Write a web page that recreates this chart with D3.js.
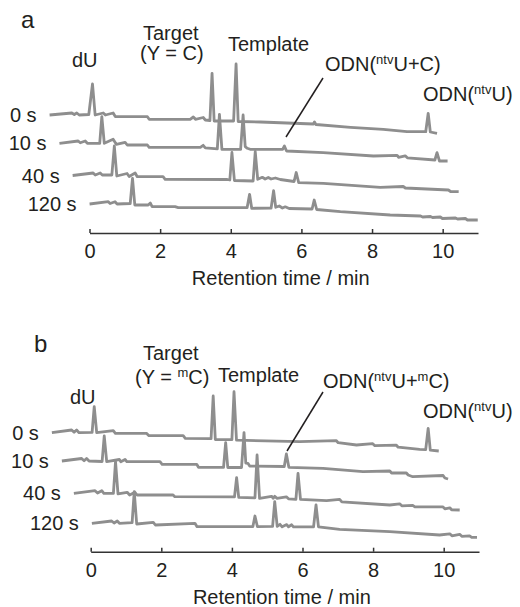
<!DOCTYPE html>
<html>
<head>
<meta charset="utf-8">
<script src="https://cdn.jsdelivr.net/npm/d3@7"></script>
<style>
  body { margin: 0; background: #fff; }
  text { font-family: "Liberation Sans", Arial, sans-serif; fill: #231f20; }
</style>
</head>
<body>
<script>
// reaction times, one chromatogram each
var times = ["0 s", "10 s", "40 s", "120 s"];
var xTicks = [0, 2, 4, 6, 8, 10];

// panel a (Y = C): [retention time (min), signal]
var a0 = [[-1.13,0],[-0.5,2],[-0.43,0.5],[-0.36,2],[-0.29,0],[-0.02,0.5],[0.085,31],[0.16,0],[0.39,2],[0.45,0],[0.67,2],[0.73,-1.5],[1.64,-1.7],[1.69,-4.3],[2.85,-4.3],[2.94,-2],[3.0,-4.3],[3.22,-2.5],[3.28,-5],[3.41,-5.5],[3.47,41.7],[3.53,-6],[4.08,-6],[4.15,51],[4.21,-6.5],[4.84,-7],[6.34,-9],[6.37,-7],[6.41,-9.5],[7.39,-12.3],[8.32,-14.3],[8.99,-16.7],[9.52,-16.7],[9.59,1.7],[9.65,-17],[9.84,-18.3]];
var a10 = [[-1.12,0],[-0.59,2.3],[-0.53,0.5],[-0.39,2.3],[-0.33,0],[0.02,0],[0.08,26.6],[0.15,0],[0.40,4],[0.49,-1],[0.74,1],[0.80,-1.7],[1.37,-1.7],[1.42,-4],[2.87,-4],[2.95,-2],[3.01,-4.5],[3.35,-5.5],[3.41,29],[3.48,-6],[4.01,-6],[4.08,28.3],[4.14,-3.4],[4.2,-5],[4.28,-6],[5.2,-6],[5.25,-2.7],[5.31,-7.7],[6.35,-9.4],[7.77,-12.7],[8.44,-12],[8.48,-14],[8.67,-12.5],[8.73,-14.5],[9.51,-16.7],[9.57,-9.4],[9.64,-17.7],[9.87,-17.7]];
var a40 = [[-1.1,0],[-0.52,2.5],[-0.46,0.5],[-0.32,2.5],[-0.26,0.5],[0.01,0.5],[0.08,29.5],[0.15,-0.5],[0.44,2],[0.5,-1],[0.67,2.5],[0.73,-1.2],[1.46,-1.2],[1.52,-3.8],[3.28,-4],[3.35,-4.5],[3.41,23],[3.48,-5],[4.01,-5.5],[4.07,24],[4.14,-3.8],[4.27,-1.8],[4.35,-3.5],[4.44,-2],[4.52,-3.5],[4.64,-2.5],[4.78,-4],[5.17,-6],[5.23,3],[5.3,-7.2],[6.0,-7.8],[7.61,-11.8],[8.26,-11],[8.32,-12.5],[9.54,-14.5],[9.6,-16],[9.83,-16.2]];
var a120 = [[-1.13,0],[-0.6,2.3],[-0.55,0.5],[-0.41,2.3],[-0.35,0],[0.02,0.5],[0.085,25.7],[0.15,-1],[0.53,-1],[0.59,1],[0.64,-2.7],[1.29,-2.7],[1.38,-3.7],[3.33,-3.7],[3.4,9.7],[3.46,-4.3],[4.01,-4],[4.08,13.3],[4.14,-3.3],[4.24,-2],[4.33,-4],[4.41,-2.8],[4.52,-4.5],[5.17,-5],[5.23,4],[5.3,-5.5],[5.97,-7.7],[7.38,-11],[8.24,-12],[8.3,-13],[8.52,-12.5],[8.58,-13.5],[8.8,-13],[8.86,-14.5],[9.23,-14],[9.29,-15],[9.51,-14.5],[9.57,-16],[9.86,-16]];

// panel b (Y = mC)
var b0 = [[-1.1,0],[-0.54,2.7],[-0.47,0.5],[-0.4,2.7],[-0.33,0],[0.04,0.4],[0.10,26],[0.17,0],[0.64,2],[0.7,-0.6],[1.58,-0.6],[1.65,-3],[2.62,-3],[2.68,-5.6],[3.41,-6],[3.47,36.7],[3.53,-6.8],[4.0,-7],[4.06,41],[4.13,-7.5],[5.92,-9],[6.96,-8],[7.01,-10],[7.53,-12.3],[7.99,-11],[8.05,-13],[8.66,-12.5],[8.71,-14.5],[9.32,-16.6],[9.49,-17],[9.56,4.4],[9.62,-17.5],[9.86,-18.3]];
var b10 = [[-1.1,0],[-0.54,2.5],[-0.47,0.3],[-0.4,2.5],[-0.33,0],[0.04,-0.5],[0.10,25],[0.17,-0.7],[0.53,1.5],[0.57,-0.7],[0.69,1.5],[0.74,-0.7],[1.68,-0.7],[1.74,-3.3],[2.72,-3.3],[2.77,-6.3],[3.48,-6.3],[3.54,18.3],[3.6,-6.5],[3.99,-6.5],[4.06,28.3],[4.11,-2],[4.17,-2.3],[4.22,-5],[5.2,-5.5],[5.26,7],[5.33,-6.3],[6.3,-7.3],[7.43,-10.7],[8.19,-10],[8.24,-12],[8.66,-12],[8.71,-14],[8.84,-15.7],[9.7,-14.5],[9.75,-17],[9.84,-18]];
var b40 = [[-1.1,0],[-0.5,2.6],[-0.43,0.3],[-0.31,2.6],[-0.25,0],[0.02,0],[0.08,31.6],[0.15,-0.5],[0.41,1],[0.48,-1.7],[0.63,1],[0.69,-1.7],[1.71,-1.7],[1.76,-3.4],[3.45,-3.6],[3.51,15.6],[3.57,-4],[4.03,-4.5],[4.09,38.3],[4.16,-5],[4.5,-3],[4.55,-5],[4.59,-3],[4.65,-5],[4.92,-3.5],[4.98,-5.5],[5.19,-6],[5.25,20],[5.32,-6],[6.06,-7.4],[6.43,-6],[6.49,-8.5],[7.85,-11.7],[8.13,-10.5],[8.19,-12.5],[8.5,-12],[8.56,-13.5],[9.35,-13.5],[9.41,-15.5],[9.55,-14.5],[9.6,-16.5],[9.83,-16.7]];
var b120 = [[-1.1,0],[-0.54,2.3],[-0.47,0.3],[-0.38,2.3],[-0.32,0],[0.04,0.6],[0.10,31.6],[0.17,-0.7],[0.64,1],[0.7,-1.7],[1.82,0],[1.88,-3.4],[3.46,-3.4],[3.52,7.3],[3.59,-3.4],[4.02,-3],[4.08,21.6],[4.15,-3],[4.23,-1],[4.29,-3.5],[4.42,-1.3],[4.47,-3.5],[4.56,-1.5],[4.61,-3.6],[5.18,-3.5],[5.25,18.3],[5.32,-3.6],[5.92,-6],[7.34,-8.4],[8.75,-11.7],[9.04,-10.5],[9.1,-12.5],[9.32,-11],[9.38,-13],[9.6,-12.5],[9.66,-14],[9.81,-14]];

var svg = d3.select("body").append("svg")
    .attr("width", 520)
    .attr("height", 607);

var traceColor = "#8e8e8e";
var fs = 20;

// signal -> vertical pixel offset from a trace's own baseline
var yv = d3.scaleLinear().domain([0, 50]).range([0, -50]);

// text with a small raised part, pieces = [[text, isSup], ...]
function label(g, x, y, pieces) {
  var t = g.append("text").attr("x", x).attr("y", y).attr("font-size", fs);
  var up = false;
  pieces.forEach(function(p) {
    var s = t.append("tspan").text(p[0]);
    if (p[1] && !up) { s.attr("font-size", 13).attr("dy", -7); up = true; }
    else if (!p[1] && up) { s.attr("dy", 7); up = false; }
  });
  return t;
}

function drawPanel(o) {
  var g = svg.append("g");
  var x = d3.scaleLinear().domain([0, 11]).range([o.x0, o.x1]);
  var line = d3.line().x(function(d) { return x(d[0]); }).y(function(d) { return yv(d[1]); });

  o.traces.forEach(function(tr, i) {
    var tg = g.append("g").attr("transform", "translate(" + o.dx[i] + "," + (o.top + o.dy[i]) + ")");
    tg.append("path")
      .attr("d", line(tr))
      .attr("fill", "none")
      .attr("stroke", traceColor)
      .attr("stroke-width", 2.8)
      .attr("stroke-linejoin", "round");
    tg.append("text")
      .text(times[i])
      .attr("x", x(tr[0][0]) - 13)
      .attr("y", 7)
      .attr("text-anchor", "end")
      .attr("font-size", fs);
  });

  var axis = d3.axisBottom(x).tickValues(xTicks).tickSizeInner(-4).tickSizeOuter(0).tickPadding(11);
  var ag = g.append("g").attr("transform", "translate(0," + o.axisY + ")").call(axis);
  ag.select(".domain").attr("stroke", "#333").attr("stroke-width", 1.5);
  ag.selectAll(".tick line").attr("stroke", "#333").attr("stroke-width", 1.5);
  ag.selectAll(".tick text").attr("font-size", fs).attr("font-family", null).attr("fill", "#231f20");

  g.append("text")
    .text("Retention time / min")
    .attr("x", (o.x0 + o.x1) / 2 - 3)
    .attr("y", o.axisY + 52)
    .attr("text-anchor", "middle")
    .attr("font-size", fs);

  g.append("text").text(o.letter).attr("x", o.letterX).attr("y", o.letterY).attr("font-size", 24);

  g.append("path")
    .attr("d", "M" + o.lead[0] + "," + o.lead[1] + "L" + o.lead[2] + "," + o.lead[3])
    .attr("stroke", "#231f20")
    .attr("stroke-width", 1.5);

  o.labels.forEach(function(l) { label(g, l[0], l[1], l[2]); });
}

drawPanel({
  letter: "a", letterX: 21, letterY: 28,
  traces: [a0, a10, a40, a120],
  x0: 89.5, x1: 478, top: 115, axisY: 233,
  dx: [0, 9.5, 22, 40], dy: [0, 28.3, 60.5, 89],
  lead: [323, 78, 286, 137],
  labels: [
    [72, 67, [["dU"]]],
    [143, 40, [["Target"]]],
    [140, 60, [["(Y = C)"]]],
    [228, 51, [["Template"]]],
    [325, 71, [["ODN("], ["ntv", true], ["U+C)"]]],
    [423, 101, [["ODN("], ["ntv", true], ["U)"]]]
  ]
});

drawPanel({
  letter: "b", letterX: 34, letterY: 352,
  traces: [b0, b10, b40, b120],
  x0: 90.7, x1: 479, top: 432.7, axisY: 551.7,
  dx: [0, 10, 22, 40], dy: [0, 28.3, 60.6, 90.6],
  lead: [323, 392, 287, 451],
  labels: [
    [70, 404, [["dU"]]],
    [143, 360, [["Target"]]],
    [135, 384, [["(Y = "], ["m", true], ["C)"]]],
    [218, 382, [["Template"]]],
    [323, 388, [["ODN("], ["ntv", true], ["U+"], ["m", true], ["C)"]]],
    [423, 418, [["ODN("], ["ntv", true], ["U)"]]]
  ]
});
</script>
</body>
</html>
